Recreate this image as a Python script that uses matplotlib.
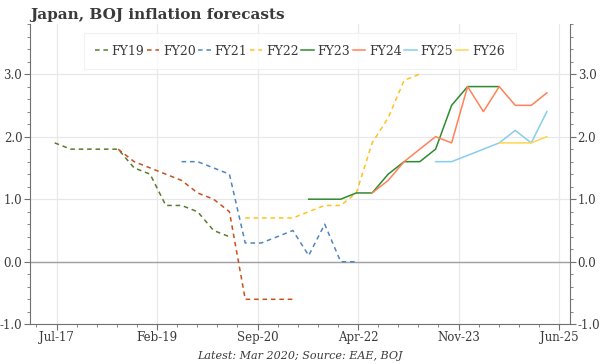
import datetime as dt
import numpy as np
import matplotlib
matplotlib.use("Agg")
import matplotlib.pyplot as plt
import matplotlib.dates as mdates
from matplotlib.ticker import MultipleLocator, FixedLocator, FormatStrFormatter

# BOJ core CPI forecasts, one value per Outlook Report (quarterly)
fy19_start = "2017-07"
fy19 = [1.9, 1.8, 1.8, 1.8, 1.8, 1.5, 1.4, 0.9, 0.9, 0.8, 0.5, 0.4]
fy20_start = "2018-07"
fy20 = [1.8, 1.6, 1.5, 1.4, 1.3, 1.1, 1.0, 0.8, -0.6, -0.6, -0.6, -0.6]
fy21_start = "2019-07"
fy21 = [1.6, 1.6, 1.5, 1.4, 0.3, 0.3, 0.4, 0.5, 0.1, 0.6, 0.0, 0.0]
fy22_start = "2020-07"
fy22 = [0.7, 0.7, 0.7, 0.7, 0.8, 0.9, 0.9, 1.1, 1.9, 2.3, 2.9, 3.0]
fy23_start = "2021-07"
fy23 = [1.0, 1.0, 1.0, 1.1, 1.1, 1.4, 1.6, 1.6, 1.8, 2.5, 2.8, 2.8, 2.8]
fy24_start = "2022-07"
fy24 = [1.1, 1.3, 1.6, 1.8, 2.0, 1.9, 2.8, 2.4, 2.8, 2.5, 2.5, 2.7]
fy25_start = "2023-07"
fy25 = [1.6, 1.6, 1.7, 1.8, 1.9, 2.1, 1.9, 2.4]
fy26_start = "2024-07"
fy26 = [1.9, 1.9, 1.9, 2.0]

labels = ["FY19", "FY20", "FY21", "FY22", "FY23", "FY24", "FY25", "FY26"]
colors = ["#5b7a2c", "#c9501c", "#4f86c0", "#ffc21a", "#2e8b2e", "#ff8258", "#87cdec", "#ffd54f"]
dashed = [True, True, True, True, False, False, False, False]


def quarters(start, n):
    return [np.datetime64(start, "M") + 3 * i for i in range(n)]


series = [(fy19_start, fy19), (fy20_start, fy20), (fy21_start, fy21), (fy22_start, fy22),
          (fy23_start, fy23), (fy24_start, fy24), (fy25_start, fy25), (fy26_start, fy26)]

txt = "#3a3a3a"
plt.rcParams["font.family"] = ["DejaVu Serif"]

fig = plt.figure(figsize=(6, 3.64), dpi=100)
ax = fig.add_axes([0.05, 0.109, 0.90, 0.825])

for (start, vals), lab, col, dsh in zip(series, labels, colors, dashed):
    x = np.array(quarters(start, len(vals)), dtype="datetime64[D]")
    ax.plot(x, vals, color=col, lw=1.1, label=lab,
            linestyle=(0, (3, 2.5)) if dsh else "-")

ax.axhline(0, color="#a0a0a0", lw=1.0, zorder=1)

# x axis: ticks every 578 days from mid-July 2017
t0 = dt.date(2017, 7, 12)
major = [t0 + dt.timedelta(days=578 * k) for k in range(6)]
minor = [t0 + dt.timedelta(days=578 * k / 5) for k in range(-1, 27)]
ax.xaxis.set_major_locator(FixedLocator(mdates.date2num(major)))
ax.xaxis.set_minor_locator(FixedLocator(mdates.date2num(minor)))
ax.xaxis.set_major_formatter(mdates.DateFormatter("%b-%y"))
ax.set_xlim(dt.date(2017, 2, 9), dt.date(2025, 8, 12))

ax.set_ylim(-1.0, 3.8)
ax.yaxis.set_major_locator(MultipleLocator(1.0))
ax.yaxis.set_minor_locator(MultipleLocator(0.2))
ax.yaxis.set_major_formatter(FormatStrFormatter("%.1f"))

ax.grid(True, which="major", color="#e8e8e8", lw=0.9)
ax.set_axisbelow(True)

for s in ["left", "right", "bottom"]:
    ax.spines[s].set_color("#707070")
ax.spines["top"].set_visible(False)

ax.tick_params(axis="both", which="major", length=4, color="#707070",
               labelsize=8.5, labelcolor=txt, right=True, labelright=True, pad=1.5)
ax.tick_params(axis="both", which="minor", length=2, color="#707070", right=True)
ax.tick_params(axis="x", which="major", pad=1)

leg = ax.legend(loc="upper center", bbox_to_anchor=(0.5, 0.99), ncol=8,
                handlelength=1.0, handletextpad=0.3, columnspacing=0.2,
                fontsize=9, frameon=True, fancybox=False, borderpad=0.9)
leg.get_frame().set_edgecolor("#eeeeee")
leg.get_frame().set_linewidth(0.8)
for t in leg.get_texts():
    t.set_color(txt)

fig.text(0.05, 1 - 19 / 364, "Japan, BOJ inflation forecasts", fontsize=11,
         fontweight="bold", color=txt, ha="left", va="baseline")
fig.text(0.5, 1 - 359 / 364, "Latest: Mar 2020; Source: EAE, BOJ", fontsize=8,
         style="italic", color=txt, ha="center", va="baseline")

fig.savefig("out.png", dpi=100)
